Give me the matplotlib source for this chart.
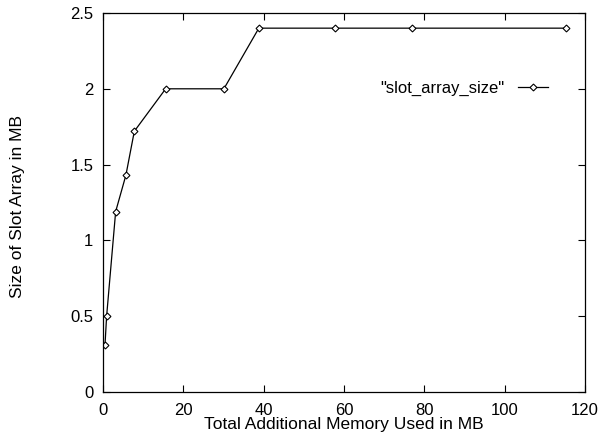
import matplotlib
matplotlib.use("Agg")
import matplotlib.pyplot as plt

plt.rcParams['font.family'] = ['Liberation Sans', 'DejaVu Sans']

memory_mb = [0.5, 0.9, 3.15, 5.7, 7.8, 15.6, 30.1, 38.8, 57.7, 76.9, 115.2]
slot_array_mb = [0.3125, 0.5, 1.19, 1.43, 1.72, 2.0, 2.0, 2.4, 2.4, 2.4, 2.4]

fig = plt.figure(figsize=(6.07, 4.41), dpi=100)
ax = fig.add_axes([103/607, 49/441, 482/607, 379/441])
ax.plot(memory_mb, slot_array_mb, color='black', linewidth=0.9, marker='D',
        markersize=3.5, markerfacecolor='white', markeredgecolor='black',
        markeredgewidth=0.8, label='"slot_array_size"')
ax.set_xlim(0, 120)
ax.set_ylim(0, 2.5)
ax.set_xticks([0, 20, 40, 60, 80, 100, 120])
ax.set_yticks([0, 0.5, 1, 1.5, 2, 2.5])
ax.set_yticklabels(['0', '0.5', '1', '1.5', '2', '2.5'])
ax.tick_params(direction='in', top=True, right=True, length=5, width=0.8, labelsize=12)
ax.tick_params(axis='x', pad=8)
ax.tick_params(axis='y', pad=7)
for s in ax.spines.values():
    s.set_linewidth(0.9)
ax.set_xlabel('Total Additional Memory Used in MB', fontsize=12.5, labelpad=-1)
ax.set_ylabel('Size of Slot Array in MB', fontsize=12.5)
ax.yaxis.set_label_coords((19 - 103) / 482 + 6/482, 0.49)
leg = ax.legend(loc='center right', bbox_to_anchor=(0.923, 0.802), frameon=False,
                markerfirst=False, fontsize=12, handlelength=1.8, handletextpad=0.8,
                borderpad=0, borderaxespad=0)
fig.savefig('out.png', dpi=100)
